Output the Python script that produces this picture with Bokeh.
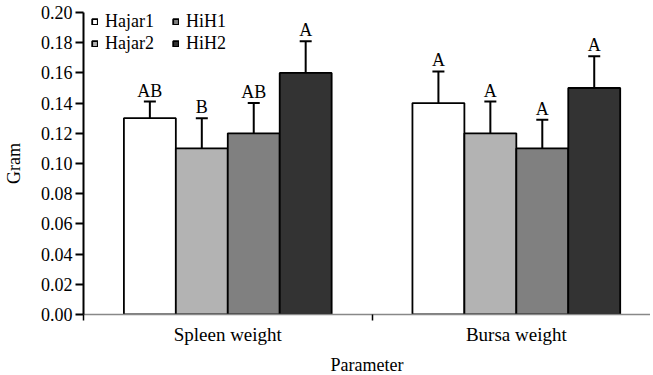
from bokeh.plotting import figure
from bokeh.models import (ColumnDataSource, Range1d, FixedTicker, PrintfTickFormatter,
                          Whisker, TeeHead, Legend, LegendItem)
from bokeh.core.properties import value
from bokeh.embed import file_html
from bokeh.resources import INLINE

categories = ["Spleen weight", "Bursa weight"]
series = ["Hajar1", "Hajar2", "HiH1", "HiH2"]
colors = ["#ffffff", "#b3b3b3", "#808080", "#333333"]
means = {
    "Hajar1": [0.13, 0.14],
    "Hajar2": [0.11, 0.12],
    "HiH1": [0.12, 0.11],
    "HiH2": [0.16, 0.15],
}
uppers = {
    "Hajar1": [0.141, 0.161],
    "Hajar2": [0.130, 0.141],
    "HiH1": [0.140, 0.129],
    "HiH2": [0.181, 0.171],
}
letters = {
    "Hajar1": ["AB", "A"],
    "Hajar2": ["B", "A"],
    "HiH1": ["AB", "A"],
    "HiH2": ["A", "A"],
}
y_ticks = [0.0, 0.02, 0.04, 0.06, 0.08, 0.10, 0.12, 0.14, 0.16, 0.18, 0.20]

FONT = "Liberation Serif"
bar_w = 0.18
offsets = [-0.27, -0.09, 0.09, 0.27]

p = figure(frame_width=567, frame_height=302, output_backend="svg", toolbar_location=None,
           x_range=Range1d(0, 1.965), y_range=Range1d(0, 0.20),
           min_border_left=78, min_border_right=0, min_border_top=12, min_border_bottom=53)
p.outline_line_color = None
p.xgrid.grid_line_color = None
p.ygrid.grid_line_color = None

renderers = []
for s, c, off in zip(series, colors, offsets):
    xs = [i + 0.5 + off for i in range(len(categories))]
    src = ColumnDataSource(dict(x=xs, top=means[s], up=uppers[s], lab=letters[s]))
    r = p.vbar(x="x", top="top", width=bar_w, bottom=0, source=src,
               fill_color=c, line_color="black", line_width=1.8)
    renderers.append(r)
    w = Whisker(base="x", lower="top", upper="up", source=src,
                line_color="black", line_width=2,
                upper_head=TeeHead(size=12, line_width=2, line_color="black"),
                lower_head=None)
    p.add_layout(w)
    p.text(x="x", y="up", text="lab", source=src, text_align="center",
           text_baseline="bottom", y_offset=-1,
           text_font=value(FONT), text_font_size="18px", text_color="black")

# axes
p.yaxis.ticker = FixedTicker(ticks=y_ticks)
p.yaxis.formatter = PrintfTickFormatter(format="%.2f")
p.yaxis.axis_label = "Gram"
p.yaxis.axis_label_text_font = FONT
p.yaxis.axis_label_text_color = "black"
p.yaxis.axis_label_text_font_style = "normal"
p.yaxis.axis_label_text_font_size = "18px"
p.yaxis.axis_label_standoff = 14
p.yaxis.major_label_text_font = FONT
p.yaxis.major_label_text_font_size = "18px"
p.yaxis.major_label_text_color = "black"
p.yaxis.major_label_standoff = 3
p.yaxis.axis_line_width = 2
p.yaxis.axis_line_color = "black"
p.yaxis.major_tick_line_width = 2
p.yaxis.major_tick_in = 0
p.yaxis.major_tick_out = 8
p.yaxis.minor_tick_line_color = None

p.xaxis.ticker = FixedTicker(ticks=[0.5, 1.5], minor_ticks=[0, 1])
p.xaxis.major_label_overrides = {0.5: categories[0], 1.5: categories[1]}
p.xaxis.axis_label = "Parameter"
p.xaxis.axis_label_text_font = FONT
p.xaxis.axis_label_text_color = "black"
p.xaxis.axis_label_text_font_style = "normal"
p.xaxis.axis_label_text_font_size = "18px"
p.xaxis.axis_label_standoff = 7
p.xaxis.major_label_text_font = FONT
p.xaxis.major_label_text_font_size = "19px"
p.xaxis.major_label_text_color = "black"
p.xaxis.major_label_standoff = 3
p.xaxis.axis_line_color = "#888888"
p.xaxis.axis_line_width = 1.5
p.xaxis.major_tick_in = 0
p.xaxis.major_tick_out = 0
p.xaxis.minor_tick_in = 0
p.xaxis.minor_tick_out = 6
p.xaxis.minor_tick_line_color = "black"
p.xaxis.minor_tick_line_width = 1.5

legend = Legend(items=[LegendItem(label=series[i], renderers=[renderers[i]]) for i in range(4)],
                ncols=2, location=(8, 260), margin=0, padding=0, spacing=1,
                glyph_width=7, glyph_height=7, label_standoff=7, label_width=66,
                label_height=20, label_text_font=FONT, label_text_font_size="18px",
                label_text_color="black",
                border_line_color=None, background_fill_alpha=0)
p.add_layout(legend)

open("out.html", "w").write(file_html(p, INLINE))
